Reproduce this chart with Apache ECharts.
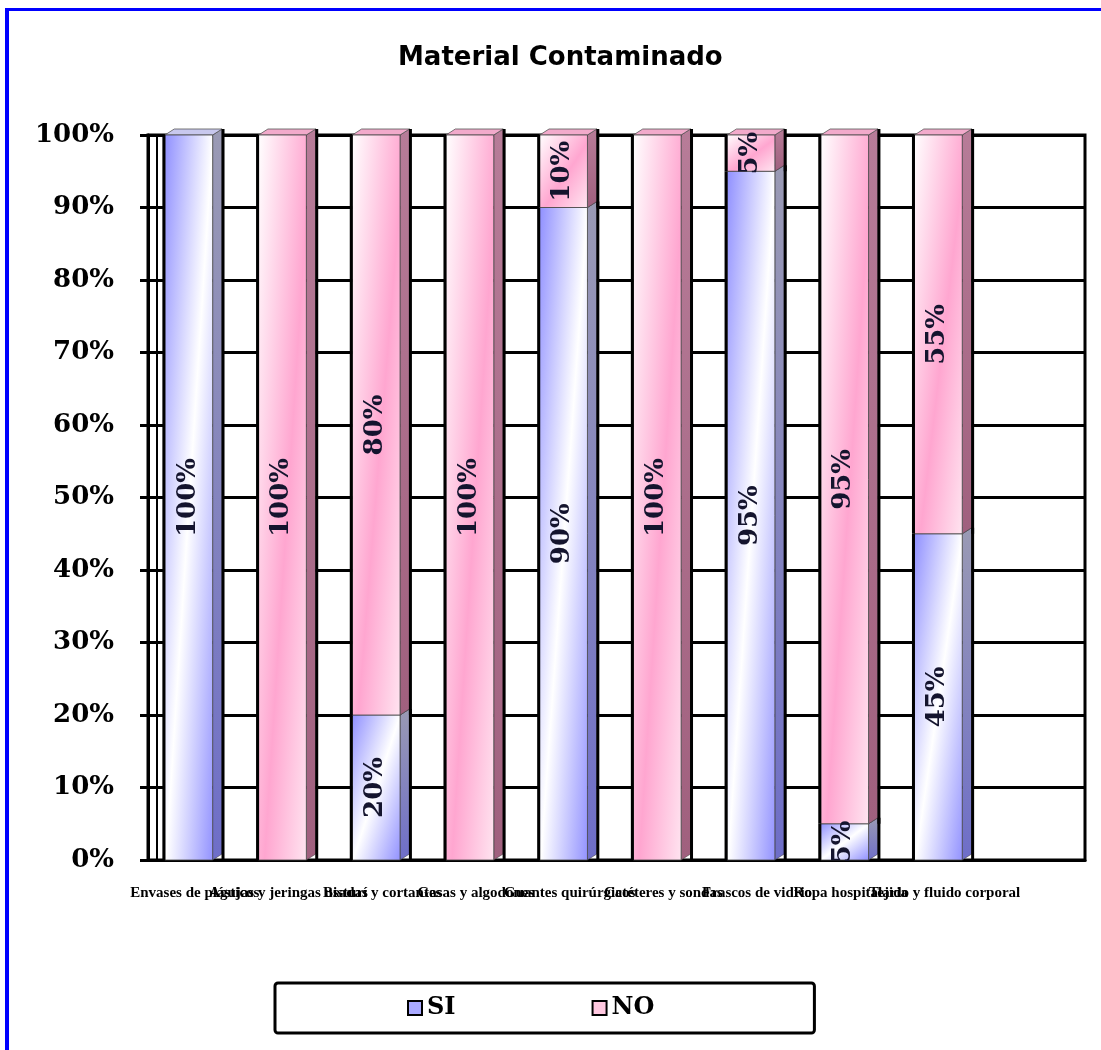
<!DOCTYPE html>
<html>
<head>
<meta charset="utf-8">
<script src="https://cdn.jsdelivr.net/npm/echarts@6/dist/echarts.min.js"></script>
<style>
  html, body { margin: 0; padding: 0; background: #fff; }
  #chart { width: 1101px; height: 1050px; }
</style>
</head>
<body>
<div id="chart"></div>
<script>
(function() {
  // datos
  var categorias = [
    'Envases de plásticos', 'Agujas y jeringas usadas', 'Bisturí y cortantes',
    'Gasas y algodones', 'Guantes quirúrgicos', 'Catéteres y sondas',
    'Frascos de vidrio', 'Ropa hospitalaria', 'Tejido y fluido corporal', ''
  ];
  var valoresSI = [100, 0, 20, 0, 90, 0, 95, 5, 45, 0];
  var valoresNO = [0, 100, 80, 100, 10, 100, 5, 95, 55, 0];
  var ticksY = [0, 10, 20, 30, 40, 50, 60, 70, 80, 90, 100];

  var serif = '"DejaVu Serif", "Liberation Serif", serif';
  var serif2 = '"Liberation Serif", "DejaVu Serif", serif';

  var estilos = {
    SI: { a: '#8f8fff', b: '#ffffff', side: ['#9a9ab4', '#6e6ec8'], top: '#c8c8ee' },
    NO: { a: '#ffffff', b: '#ffa6d0', side: ['#b77c98', '#a0607e'], top: '#f2aacb' }
  };

  // gradiente diagonal "normalizado" como en Excel
  function gradiente(est, w, h, tipo) {
    var L2 = w * w + h * h;
    var x2 = 2 * h * h / L2, y2 = 2 * w * w / L2;
    var stops = tipo === 'SI'
      ? [{ offset: 0, color: est.a }, { offset: 0.5, color: est.b }, { offset: 1, color: est.a }]
      : [{ offset: 0, color: est.a }, { offset: 0.55, color: est.b }, { offset: 1, color: '#ffe6f1' }];
    return new echarts.graphic.LinearGradient(0, 0, x2, y2, stops);
  }

  function construirDatos(base, valores) {
    var out = [];
    for (var i = 0; i < valores.length; i++) {
      var lo = base ? base[i] : 0;
      out.push([i, lo, lo + valores[i], valores[i]]);
    }
    return out;
  }

  function pintar(tipo) {
    var est = estilos[tipo];
    return function(params, api) {
      var i = api.value(0), lo = api.value(1), hi = api.value(2), val = api.value(3);
      if (!(val > 0)) return;
      var p0 = api.coord([i, lo]);
      var p1 = api.coord([i, hi]);
      var band = api.size([1, 0])[0];
      var w = band * 0.51, d = band * 0.1, dy = 6;
      var x = p0[0] - band * 0.32;
      var yb = p0[1], yt = p1[1], h = yb - yt;
      var hijos = [
        { type: 'polygon', shape: { points: [[x + w, yt], [x + w + d, yt - dy], [x + w + d, yb - dy], [x + w, yb]] },
          style: { fill: new echarts.graphic.LinearGradient(0, 0, 0, 1, [{ offset: 0, color: est.side[0] }, { offset: 1, color: est.side[1] }]), stroke: '#333', lineWidth: 0.5 } },
        { type: 'polygon', shape: { points: [[x, yt], [x + d, yt - dy], [x + w + d, yt - dy], [x + w, yt]] },
          style: { fill: est.top, stroke: '#555', lineWidth: 0.8 } },
        { type: 'rect', shape: { x: x, y: yt, width: w, height: h },
          style: { fill: gradiente(est, w, h, tipo), stroke: '#444', lineWidth: 0.8 } },
        { type: 'line', shape: { x1: x - 1, y1: yt, x2: x - 1, y2: yb },
          style: { stroke: '#000', lineWidth: 3 } },
        { type: 'line', shape: { x1: x + w + d + 1, y1: yt - dy, x2: x + w + d + 1, y2: yb },
          style: { stroke: '#000', lineWidth: 3 } },
        { type: 'text', x: x + w / 2 - 1, y: (yt + yb) / 2, rotation: Math.PI / 2, z2: 100,
          style: { text: val + '%', font: 'bold 26px ' + serif, fill: '#14142e', align: 'center', verticalAlign: 'middle' } }
      ];
      return { type: 'group', children: hijos };
    };
  }

  var chart = echarts.init(document.getElementById('chart'));
  var option = {
    animation: false,
    backgroundColor: '#ffffff',
    title: {
      text: 'Material Contaminado',
      left: 393,
      top: 40,
      textStyle: { fontFamily: '"DejaVu Sans", "Liberation Sans", sans-serif', fontWeight: 'bold', fontSize: 26, color: '#000' }
    },
    legend: {
      left: 275,
      top: 983,
      orient: 'horizontal',
      itemWidth: 14,
      itemHeight: 14,
      itemGap: 136,
      padding: [13, 160, 13, 132],
      borderColor: '#000',
      borderWidth: 3,
      borderRadius: 3,
      textStyle: { fontFamily: serif, fontWeight: 'bold', fontSize: 24, color: '#000' },
      data: [
        { name: 'SI', icon: 'rect', itemStyle: { color: '#a9a9ff', borderColor: '#000', borderWidth: 2 } },
        { name: 'NO', icon: 'rect', itemStyle: { color: '#ffc8e0', borderColor: '#000', borderWidth: 2 } }
      ]
    },
    grid: {
      left: 148,
      right: 16,
      top: 135,
      bottom: 190,
      show: true,
      borderColor: '#000',
      borderWidth: 3,
      backgroundColor: 'transparent'
    },
    xAxis: {
      type: 'category',
      data: categorias,
      axisLine: { lineStyle: { color: '#000', width: 3 } },
      axisTick: { show: false },
      axisLabel: {
        interval: 0,
        hideOverlap: false,
        margin: 26,
        fontFamily: serif2,
        fontWeight: 'bold',
        fontSize: 15,
        color: '#000'
      }
    },
    yAxis: [{
      type: 'value',
      min: ticksY[0],
      max: ticksY[ticksY.length - 1],
      interval: 10,
      axisLine: { show: true, lineStyle: { color: '#000', width: 3 } },
      axisTick: { show: true, length: 8, lineStyle: { color: '#000', width: 3 } },
      axisLabel: {
        margin: 34,
        formatter: '{value}%',
        fontFamily: serif,
        fontWeight: 'bold',
        fontSize: 26,
        color: '#000'
      },
      splitLine: { show: true, lineStyle: { color: '#000', width: 3 } }
    }, {
      // pared lateral del efecto 3D
      type: 'value',
      position: 'left',
      offset: -9,
      min: ticksY[0],
      max: ticksY[ticksY.length - 1],
      interval: 10,
      axisLine: { show: true, lineStyle: { color: '#000', width: 2 } },
      axisTick: { show: false },
      axisLabel: { show: false },
      splitLine: { show: false }
    }],
    graphic: [
      { type: 'rect', left: 5, top: 8, shape: { width: 4, height: 1042 }, style: { fill: '#0000ff' } },
      { type: 'rect', left: 5, top: 8, shape: { width: 1096, height: 3 }, style: { fill: '#0000ff' } }
    ],
    series: [
      {
        name: 'SI',
        type: 'custom',
        renderItem: pintar('SI'),
        encode: { x: 0, y: [1, 2] },
        itemStyle: { color: '#a9a9ff' },
        data: construirDatos(null, valoresSI)
      },
      {
        name: 'NO',
        type: 'custom',
        renderItem: pintar('NO'),
        encode: { x: 0, y: [1, 2] },
        itemStyle: { color: '#ffc8e0' },
        data: construirDatos(valoresSI, valoresNO)
      }
    ]
  };
  chart.setOption(option);
})();
</script>
</body>
</html>
